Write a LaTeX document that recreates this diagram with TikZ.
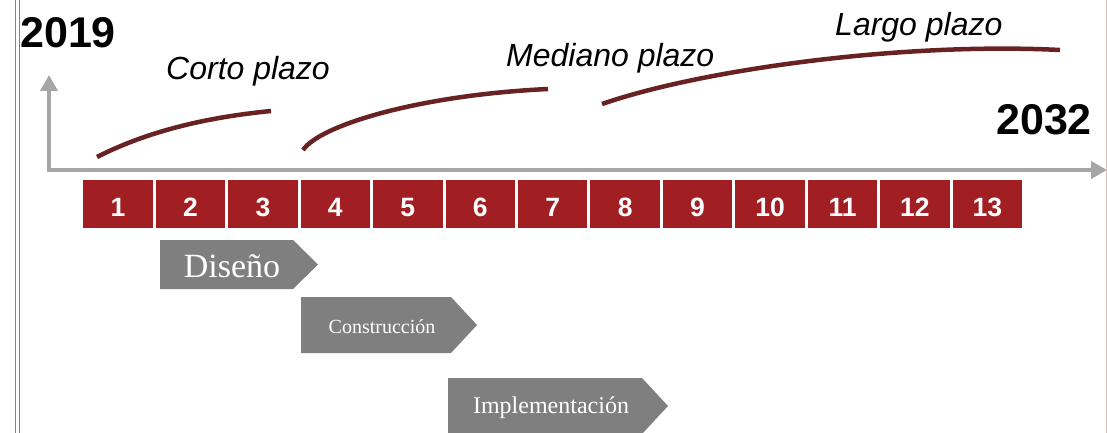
\documentclass[tikz,border=0pt]{standalone}
\usepackage{fontspec}
\setmainfont{Liberation Serif}
\setsansfont{Liberation Sans}
\usetikzlibrary{arrows.meta}
\definecolor{boxred}{RGB}{161,31,34}
\definecolor{curvered}{RGB}{104,34,34}
\definecolor{axisgray}{RGB}{166,166,166}
\definecolor{phasegray}{RGB}{127,127,127}
\definecolor{bordercol}{RGB}{185,105,105}
\tikzset{
  yearbox/.style={fill=boxred, draw=none, minimum width=69.5pt, minimum height=48pt, inner sep=0pt,
    text=white, font=\sffamily\bfseries\fontsize{26.5}{26.5}\selectfont, text height=24pt, text depth=0pt},
  axisline/.style={draw=axisgray, line width=4pt, line join=miter,
    {Triangle[length=16pt,width=17pt]}-{Triangle[length=16pt,width=17pt]}},
  termcurve/.style={draw=curvered, line width=4.5pt},
  termlabel/.style={font=\sffamily\itshape\fontsize{32}{32}\selectfont, anchor=base west, inner sep=0pt},
  yearlabel/.style={font=\sffamily\bfseries\fontsize{43}{43}\selectfont, anchor=base west, inner sep=0pt},
  phase/.style={fill=phasegray, draw=none},
  phasetext/.style={text=white, anchor=base, inner sep=0pt},
  borderline/.style={draw=bordercol, line width=1.1pt}
}
\begin{document}
\begin{tikzpicture}[x=1pt,y=-1pt]
\useasboundingbox (0,0) rectangle (1107,433);
% page border lines
\draw[borderline] (15.7,0) -- (15.7,433);
\draw[borderline] (19.3,0) -- (19.3,433);
\draw[borderline, draw=bordercol!45] (1106.3,0) -- (1106.3,433);
% axes
\coordinate (ytop) at (49,75);
\coordinate (origin) at (49,170);
\coordinate (xend) at (1107,170);
\draw[axisline] (ytop) -- (origin) -- (xend);
% year labels
\node[yearlabel] (y2019) at (20,48) {2019};
\node[yearlabel] (y2032) at (996,134) {2032};
% term curves
\draw[termcurve] (97,157) .. controls (150,130) and (210,117) .. (271,111);
\draw[termcurve] (303,150) .. controls (320,125) and (420,95) .. (548,89);
\draw[termcurve] (602,104) .. controls (700,70) and (900,42) .. (1060,50);
% term labels
\node[termlabel] (corto) at (166,80) {Corto plazo};
\node[termlabel] (mediano) at (506,67) {Mediano plazo};
\node[termlabel] (largo) at (835,36) {Largo plazo};
% year boxes
\foreach \i in {1,...,13} {
  \node[yearbox] (b\i) at ({118+(\i-1)*72.45},204) {\i};
}
% phases
\fill[phase] (160,240) -- (293,240) -- (318,264.5) -- (293,289) -- (160,289) -- cycle;
\node[phasetext, font=\fontsize{34}{34}\selectfont] (diseno) at (232,277) {Diseño};
\fill[phase] (301,297) -- (451,297) -- (477,325) -- (451,353) -- (301,353) -- cycle;
\node[phasetext, font=\fontsize{20}{20}\selectfont] (construccion) at (382,333) {Construcción};
\fill[phase] (448,378) -- (642,378) -- (668,406) -- (642,434) -- (448,434) -- cycle;
\node[phasetext, font=\fontsize{24}{24}\selectfont] (implementacion) at (551,413) {Implementación};
\end{tikzpicture}
\end{document}
